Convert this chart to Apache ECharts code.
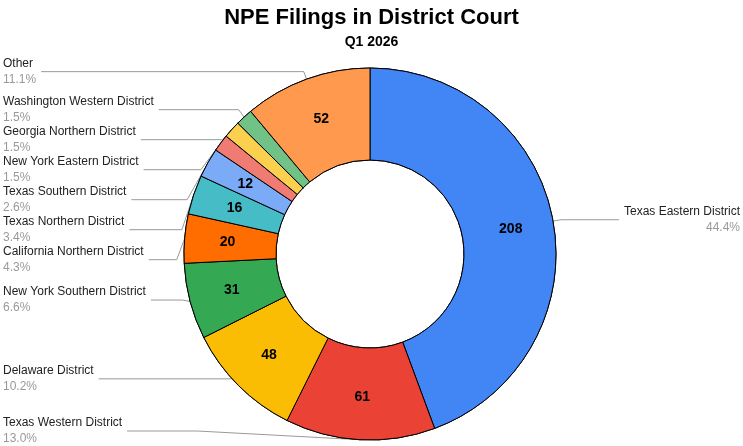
<!DOCTYPE html>
<html><head><meta charset="utf-8">
<script src="https://cdn.jsdelivr.net/npm/echarts@6/dist/echarts.min.js"></script>
<style>html,body{margin:0;padding:0;background:#fff}#c{width:743px;height:446px}</style>
</head><body><div id="c"></div>
<script>
const categories = ["Texas Eastern District","Texas Western District","Delaware District","New York Southern District","California Northern District","Texas Northern District","Texas Southern District","New York Eastern District","Georgia Northern District","Washington Western District","Other"];
const values = [208,61,48,31,20,16,12,7,7,7,52];
const colors = ["#4285F4","#EA4335","#FBBC04","#34A853","#FF6D01","#46BDC6","#7BAAF7","#F07B72","#FCD04F","#71C287","#FF994D"];
const data = categories.map((n,i)=>({name:n,value:values[i],itemStyle:{color:colors[i]}}));
const chart = echarts.init(document.getElementById('c'));
const common = {type:'pie',center:[370,254],radius:[94,186],startAngle:90,data:data,
  itemStyle:{borderColor:'#000',borderWidth:1}};
chart.setOption({
  title:{text:'NPE Filings in District Court',subtext:'Q1 2026',left:'center',top:2,itemGap:6,
    textStyle:{fontFamily:'Arial, Liberation Sans',fontSize:22,fontWeight:'bold',color:'#000'},
    subtextStyle:{fontFamily:'Arial, Liberation Sans',fontSize:14,fontWeight:'bold',color:'#000'}},
  series:[
    Object.assign({},common,{
      label:{position:'outside',alignTo:'edge',edgeDistance:3,
        formatter:p=>'{n|'+p.name+'}\n{p|'+p.percent.toFixed(1)+'%}',
        rich:{n:{fontFamily:'Arial, Liberation Sans',fontSize:12,color:'#222',lineHeight:16},
              p:{fontFamily:'Arial, Liberation Sans',fontSize:12,color:'#999',lineHeight:16}}},
      labelLine:{length:8,length2:10,lineStyle:{color:'#999'}}
    }),
    Object.assign({},common,{silent:true,
      label:{position:'inside',fontFamily:'Arial, Liberation Sans',fontSize:14,fontWeight:'bold',color:'#000',
        formatter:p=>p.value>=12?String(p.value):''},
      labelLine:{show:false}})
  ]
});
</script></body></html>
